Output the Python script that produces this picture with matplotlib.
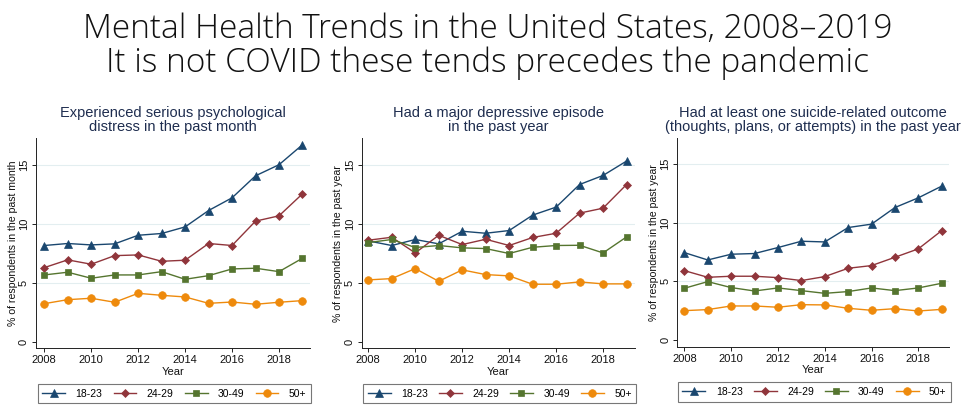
import matplotlib
matplotlib.use("Agg")
import matplotlib.pyplot as plt

years = list(range(2008, 2020))
groups = ["18-23", "24-29", "30-49", "50+"]

distress_18_23 = [8.17, 8.34, 8.22, 8.31, 9.04, 9.19, 9.75, 11.14, 12.22, 14.09, 15.03, 16.73]
distress_24_29 = [6.29, 6.95, 6.58, 7.31, 7.37, 6.83, 6.92, 8.34, 8.17, 10.24, 10.69, 12.56]
distress_30_49 = [5.67, 5.90, 5.39, 5.67, 5.67, 5.95, 5.30, 5.61, 6.18, 6.24, 5.95, 7.09]
distress_50p = [3.23, 3.57, 3.69, 3.35, 4.11, 3.94, 3.80, 3.26, 3.37, 3.18, 3.35, 3.49]

mde_18_23 = [8.56, 8.17, 8.68, 8.31, 9.38, 9.21, 9.44, 10.75, 11.43, 13.35, 14.12, 15.34]
mde_24_29 = [8.62, 8.87, 7.54, 9.04, 8.25, 8.70, 8.17, 8.85, 9.21, 10.92, 11.34, 13.35]
mde_30_49 = [8.42, 8.68, 8.00, 8.17, 7.97, 7.91, 7.49, 8.02, 8.17, 8.19, 7.54, 8.90]
mde_50p = [5.25, 5.36, 6.21, 5.13, 6.10, 5.70, 5.59, 4.88, 4.88, 5.08, 4.91, 4.91]

suicide_18_23 = [7.44, 6.81, 7.30, 7.36, 7.87, 8.41, 8.35, 9.58, 9.87, 11.29, 12.12, 13.12]
suicide_24_29 = [5.90, 5.33, 5.42, 5.42, 5.30, 5.05, 5.39, 6.10, 6.33, 7.04, 7.76, 9.32]
suicide_30_49 = [4.39, 4.96, 4.45, 4.16, 4.42, 4.19, 3.96, 4.11, 4.42, 4.19, 4.42, 4.82]
suicide_50p = [2.48, 2.57, 2.88, 2.88, 2.77, 2.99, 2.97, 2.68, 2.51, 2.65, 2.45, 2.59]

panel_titles = [
    "Experienced serious psychological\ndistress in the past month",
    "Had a major depressive episode\nin the past year",
    "Had at least one suicide-related outcome\n(thoughts, plans, or attempts) in the past year",
]
ylabels = [
    "% of respondents in the past month",
    "% of respondents in the past year",
    "% of respondents in the past year",
]
xticks = [2008, 2010, 2012, 2014, 2016, 2018]
yticks = [0, 5, 10, 15]

panels = [
    [distress_18_23, distress_24_29, distress_30_49, distress_50p],
    [mde_18_23, mde_24_29, mde_30_49, mde_50p],
    [suicide_18_23, suicide_24_29, suicide_30_49, suicide_50p],
]

colors = ["#1a476f", "#90353b", "#55752f", "#ee8a0c"]
markers = ["^", "D", "s", "o"]
msizes = [5.5, 4.5, 5, 5.5]

W, H = 975, 417
fig = plt.figure(figsize=(W / 100, H / 100), dpi=100)
fig.patch.set_facecolor("white")
plt.rcParams["font.family"] = ["Liberation Sans", "DejaVu Sans"]

fig.text(0.5, 1 - 38.5 / H, "Mental Health Trends in the United States, 2008\u20132019",
         ha="center", va="baseline", fontsize=24, family=["Open Sans", "DejaVu Sans"],
         fontweight="light", color="#111111")
fig.text(0.5, 1 - 72 / H, "It is not COVID these tends precedes the pandemic",
         ha="center", va="baseline", fontsize=24, family=["Open Sans", "DejaVu Sans"],
         fontweight="light", color="#111111")

# axes boxes in pixel coords: left, right, top, bottom
boxes = [(36, 310, 138, 348.3), (361.7, 635, 138, 348.3), (677.3, 949, 138, 346.7)]
xlims = [(2007.65, 2019.32), (2007.72, 2019.36), (2007.70, 2019.31)]
ylims = [(-0.56, 17.3), (-0.56, 17.3), (-0.6, 17.23)]

for i, (l, r, t, b) in enumerate(boxes):
    ax = fig.add_axes([l / W, 1 - b / H, (r - l) / W, (b - t) / H])
    ax.set_facecolor("white")
    for yv in [5, 10, 15]:
        ax.axhline(yv, color="#e3eef0", lw=0.8, zorder=0)
    handles = []
    for j, series in enumerate(panels[i]):
        ln, = ax.plot(years, series, color=colors[j], marker=markers[j],
                      markersize=msizes[j], lw=1.0, markeredgewidth=0.5,
                      markeredgecolor=colors[j], label=groups[j], zorder=3)
        handles.append(ln)
    ax.set_xlim(*xlims[i])
    ax.set_ylim(*ylims[i])
    ax.set_xticks(xticks)
    ax.set_yticks(yticks)
    ax.set_yticklabels([str(v) for v in yticks], rotation=90, va="center")
    ax.tick_params(axis="both", labelsize=8, length=3, width=0.7, color="#222222",
                   labelcolor="#111111", pad=2)
    for s in ["top", "right"]:
        ax.spines[s].set_visible(False)
    for s in ["left", "bottom"]:
        ax.spines[s].set_linewidth(0.7)
        ax.spines[s].set_color("#222222")
    ax.set_xlabel("Year", fontsize=8, labelpad=1, color="#111111")
    ax.set_ylabel(ylabels[i], fontsize=7.6, labelpad=1, color="#111111")
    ax.set_title(panel_titles[i], fontsize=10.5, color="#1e2d4f", pad=5, linespacing=1.05)
    leg = ax.legend(handles=handles, loc="upper center", ncol=4,
                    bbox_to_anchor=(0.505, -0.17), frameon=True, fancybox=False,
                    edgecolor="#555555", fontsize=7.5, handlelength=2.2,
                    columnspacing=1.05, handletextpad=1.0, borderpad=0.45,
                    borderaxespad=0)
    leg.get_frame().set_linewidth(0.8)

fig.savefig("out.png", dpi=100, facecolor="white")
